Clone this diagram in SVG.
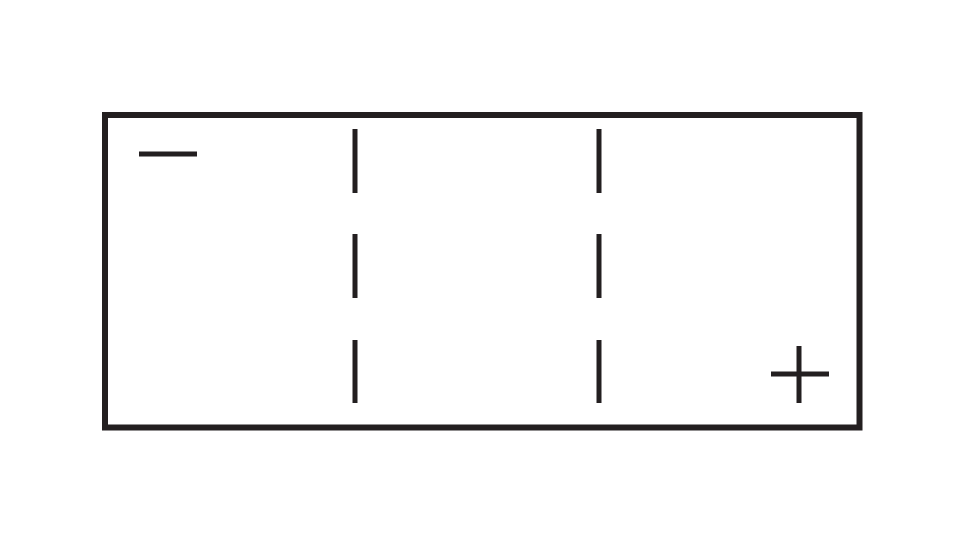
<svg xmlns="http://www.w3.org/2000/svg" width="961" height="550" viewBox="0 0 961 550">
<style>
.frame{fill:none;stroke:#231f20;stroke-width:6}
.ln{stroke:#231f20;stroke-width:5;fill:none}
</style>
<rect width="961" height="550" fill="#ffffff"/>
<g id="box"><rect class="frame" x="105" y="115" width="754.5" height="312.5"/></g>
<g id="minus"><line class="ln" x1="139" y1="154" x2="197" y2="154"/></g>
<g id="plus"><line class="ln" x1="771" y1="374" x2="829" y2="374"/><line class="ln" x1="799" y1="346" x2="799" y2="403"/></g>
<g id="dashes">
<line class="ln" x1="355" y1="129" x2="355" y2="193"/>
<line class="ln" x1="355" y1="234" x2="355" y2="298"/>
<line class="ln" x1="355" y1="340" x2="355" y2="403"/>
<line class="ln" x1="599" y1="129" x2="599" y2="193"/>
<line class="ln" x1="599" y1="234" x2="599" y2="298"/>
<line class="ln" x1="599" y1="340" x2="599" y2="403"/>
</g>
</svg>
